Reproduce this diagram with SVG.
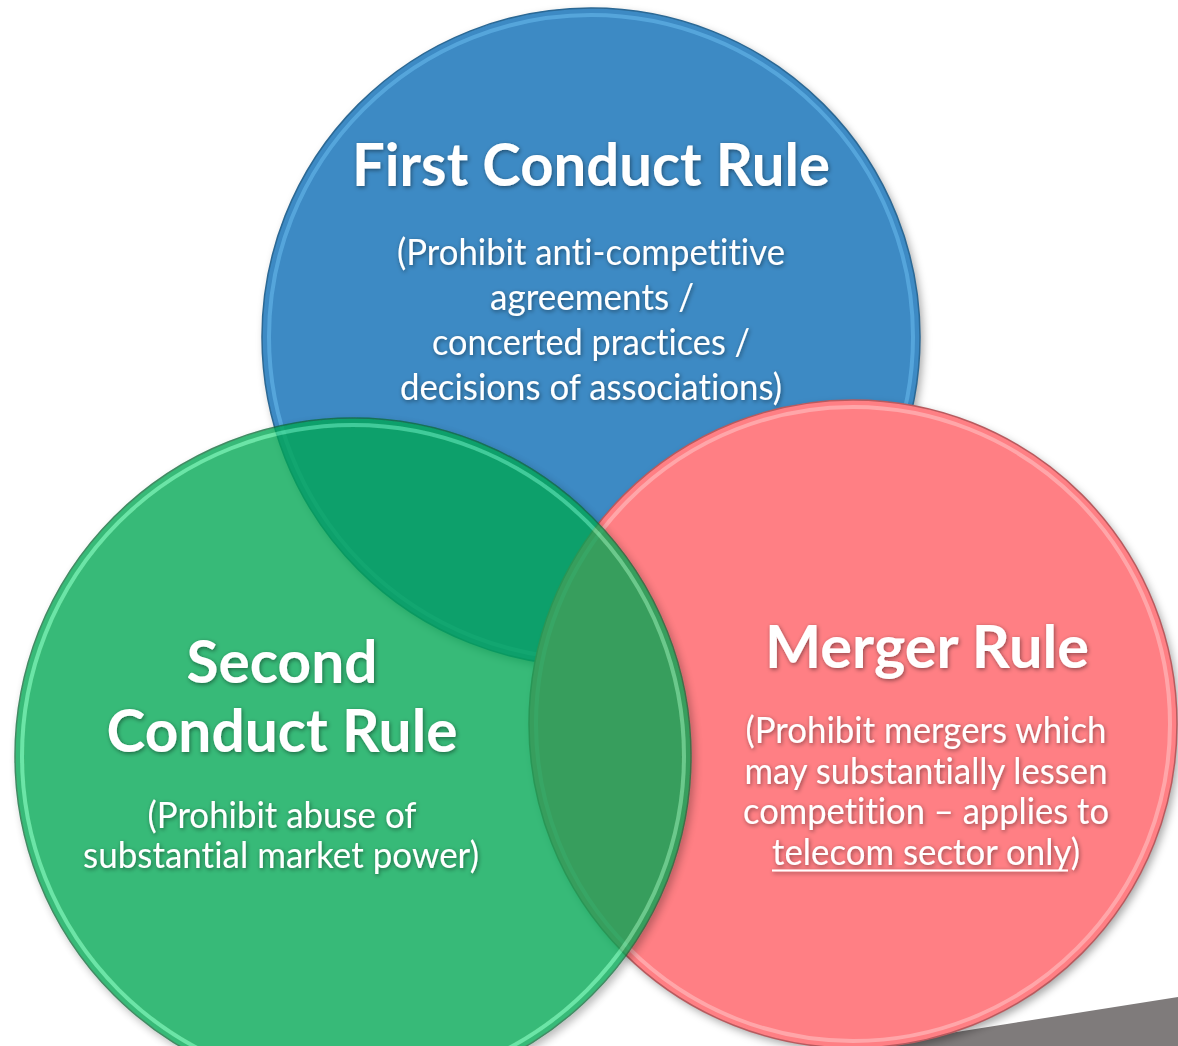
<svg xmlns="http://www.w3.org/2000/svg" width="1178" height="1046" viewBox="0 0 1178 1046">
  <defs>
    <filter id="circleShadow" x="-10%" y="-10%" width="125%" height="125%">
      <feDropShadow dx="3" dy="4" stdDeviation="4" flood-color="#000" flood-opacity="0.35"/>
    </filter>
    <filter id="textShadow" x="-5%" y="-20%" width="110%" height="150%">
      <feDropShadow dx="1" dy="1.5" stdDeviation="2" flood-color="#000" flood-opacity="0.45"/>
    </filter>
  </defs>
  <style>
    text { font-variant-ligatures: none; font-feature-settings: "liga" 0, "dlig" 0; }
    .title { font-family: Lato, "Open Sans", "Liberation Sans", sans-serif; font-weight: 700; font-size: 60px; fill: #ffffff; text-anchor: middle; }
    .body { font-family: Lato, "Open Sans", "Liberation Sans", sans-serif; font-weight: 400; font-size: 36px; fill: #ffffff; text-anchor: middle; }
    .start { text-anchor: start; }
    .rim { fill: none; stroke-width: 4; }
    .edge { fill: none; stroke-width: 1.5; }
  </style>

  <polygon points="868,1046 1178,997 1178,1046" fill="#7f7b7b"/>

  <g id="first-conduct-rule">
    <circle cx="591" cy="337" r="329" fill="#3c8ac4" filter="url(#circleShadow)"/>
    <circle class="rim" cx="591" cy="337" r="322" stroke="#5fb0e6" stroke-opacity="0.7"/>
    <circle class="edge" cx="591" cy="337" r="329" stroke="#2b6894"/>
    <g filter="url(#textShadow)">
      <text class="title" x="591" y="186" textLength="478" lengthAdjust="spacingAndGlyphs">First Conduct Rule</text>
      <text class="body" x="591" y="265" textLength="388" lengthAdjust="spacingAndGlyphs">(Prohibit anti-competitive</text>
      <text class="body" x="592" y="310" textLength="204" lengthAdjust="spacingAndGlyphs">agreements /</text>
      <text class="body" x="591" y="355" textLength="318" lengthAdjust="spacingAndGlyphs">concerted practices /</text>
      <text class="body" x="591" y="400" textLength="382" lengthAdjust="spacingAndGlyphs">decisions of associations)</text>
    </g>
  </g>

  <g id="merger-rule">
    <circle cx="853" cy="724" r="324" fill="#ff7f84" filter="url(#circleShadow)"/>
    <circle class="rim" cx="853" cy="724" r="317" stroke="#ffb3b6" stroke-opacity="0.75"/>
    <circle class="edge" cx="853" cy="724" r="324" stroke="#b85a5e"/>
    <g filter="url(#textShadow)">
      <text class="title" x="927" y="668" textLength="324" lengthAdjust="spacingAndGlyphs">Merger Rule</text>
      <text class="body" x="926" y="743" textLength="361" lengthAdjust="spacingAndGlyphs">(Prohibit mergers which</text>
      <text class="body" x="926" y="784" textLength="363" lengthAdjust="spacingAndGlyphs">may substantially lessen</text>
      <text class="body" x="926" y="824" textLength="366" lengthAdjust="spacingAndGlyphs">competition – applies to</text>
      <text class="body start" x="772" y="865" textLength="308" lengthAdjust="spacingAndGlyphs">telecom sector only)</text>
      <line x1="772" y1="870.5" x2="1068" y2="870.5" stroke="#ffffff" stroke-width="2"/>
    </g>
  </g>

  <g id="second-conduct-rule">
    <g opacity="0.78" filter="url(#circleShadow)">
      <circle cx="353" cy="756" r="338" fill="#06a752"/>
      <circle class="rim" cx="353" cy="756" r="331" stroke="#4fe89a" stroke-opacity="0.85"/>
      <circle class="edge" cx="353" cy="756" r="338" stroke="#0a6a38"/>
    </g>
    <g filter="url(#textShadow)">
      <text class="title" x="282" y="683" textLength="191" lengthAdjust="spacingAndGlyphs">Second</text>
      <text class="title" x="282" y="752" textLength="351" lengthAdjust="spacingAndGlyphs">Conduct Rule</text>
      <text class="body" x="282" y="828" textLength="269" lengthAdjust="spacingAndGlyphs">(Prohibit abuse of</text>
      <text class="body" x="281" y="868" textLength="396" lengthAdjust="spacingAndGlyphs">substantial market power)</text>
    </g>
  </g>

  <g id="connectors"/>
</svg>
